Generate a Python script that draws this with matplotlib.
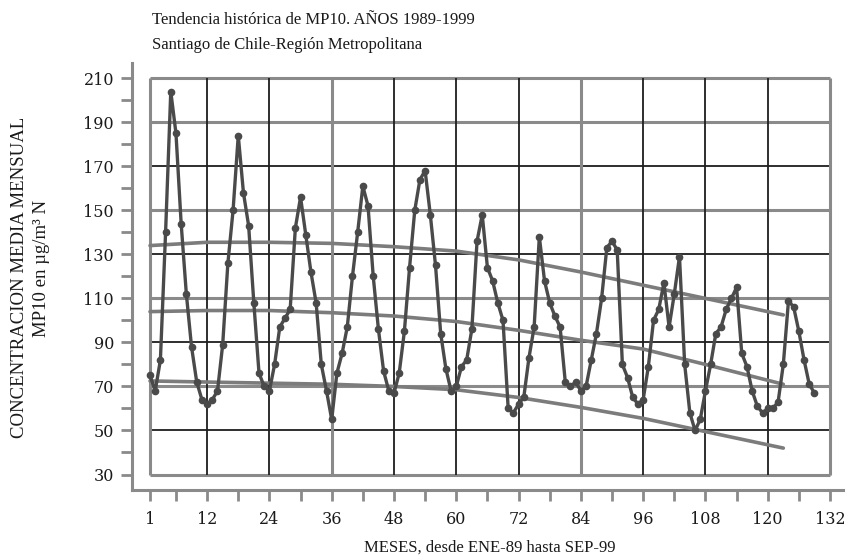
import matplotlib
matplotlib.use("Agg")
import matplotlib.pyplot as plt
import numpy as np

# ---------------- data ----------------
title_lines = ["Tendencia histórica de MP10. AÑOS 1989-1999",
               "Santiago de Chile-Región Metropolitana"]
xlabel = "MESES, desde ENE-89 hasta SEP-99"
ylabel_lines = ["CONCENTRACION MEDIA MENSUAL", "MP10 en µg/m³ N"]

months = list(range(1, 130))
mp10 = [
    # 1989
    75, 68, 82, 140, 204, 185, 144, 112, 88, 72, 64, 62,
    # 1990
    64, 68, 89, 126, 150, 184, 158, 143, 108, 76, 70, 68,
    # 1991
    80, 97, 101, 105, 142, 156, 139, 122, 108, 80, 68, 55,
    # 1992
    76, 85, 97, 120, 140, 161, 152, 120, 96, 77, 68, 67,
    # 1993
    76, 95, 124, 150, 164, 168, 148, 125, 94, 78, 68, 70,
    # 1994
    79, 82, 96, 136, 148, 124, 118, 108, 100, 60, 58, 62,
    # 1995
    65, 83, 97, 138, 118, 108, 102, 97, 72, 70, 72, 68,
    # 1996
    70, 82, 94, 110, 133, 136, 132, 80, 74, 65, 62, 64,
    # 1997
    79, 100, 105, 117, 97, 112, 129, 80, 58, 50, 55, 68,
    # 1998
    80, 94, 97, 105, 110, 115, 85, 79, 68, 61, 58, 60,
    # 1999
    60, 63, 80, 109, 106, 95, 82, 71, 67,
]

trend_months = [1, 12, 24, 36, 48, 60, 72, 84, 96, 108, 123]
trend_upper = [134, 135.5, 135.5, 135, 133.5, 131.5, 127.5, 122, 116, 110, 102.5]
trend_middle = [104, 104.5, 104.5, 103.5, 102, 99.5, 95.5, 91, 87, 80, 71]
trend_lower = [72.5, 72, 71.5, 71, 70, 68.5, 65, 60.5, 55.5, 49.5, 42]

x_grid = [1, 12, 24, 36, 48, 60, 72, 84, 96, 108, 120, 132]
x_minor = [6, 18, 30, 42, 54, 66, 78, 90, 102, 114, 126]
y_grid = [30, 50, 70, 90, 110, 130, 150, 170, 190, 210]
y_minor = [40, 60, 80, 100, 120, 140, 160, 180, 200]
x_grid_light = [1, 36, 84, 132]
y_grid_light = [30, 70, 110, 150, 190, 210]

# ---------------- figure ----------------
W, H = 847, 560
fig = plt.figure(figsize=(W / 100, H / 100), dpi=100)
fig.patch.set_facecolor("white")

left_px, right_px, top_px, bottom_px = 132, 843, 63, 490
ax = fig.add_axes([left_px / W, 1 - bottom_px / H,
                   (right_px - left_px) / W, (bottom_px - top_px) / H])

ax.set_xlim(-2.47, 134.5)
ax.set_ylim(22.96, 216.95)

# grid box
for v in y_grid:
    light = v in y_grid_light
    ax.plot([x_grid[0], x_grid[-1]], [v, v],
            color="#8a8a8a" if light else "#1e1e1e",
            lw=2.2 if light else 1.3, zorder=1, solid_capstyle="butt")
for v in x_grid:
    light = v in x_grid_light
    ax.plot([v, v], [y_grid[0], y_grid[-1]],
            color="#8a8a8a" if light else "#1e1e1e",
            lw=2.2 if light else 1.3, zorder=1, solid_capstyle="butt")

# trend lines
for tr in (trend_upper, trend_middle, trend_lower):
    ax.plot(trend_months, tr, color="#7c7c7c", lw=2.6, zorder=2,
            solid_capstyle="round")

# data
ax.plot(months, mp10, color="#4a4a4a", lw=2.4, marker="o", ms=4.5,
        mfc="#4a4a4a", mec="#4a4a4a", zorder=3)

# axes styling
for s in ("top", "right"):
    ax.spines[s].set_visible(False)
for s in ("left", "bottom"):
    ax.spines[s].set_color("#8a8a8a")
    ax.spines[s].set_linewidth(2.2)

ax.set_xticks(x_grid)
ax.set_xticklabels([str(v) for v in x_grid])
ax.set_xticks(x_minor, minor=True)
ax.set_yticks(y_grid)
ax.set_yticklabels([str(v) for v in y_grid])
ax.set_yticks(y_minor, minor=True)
ax.tick_params(axis="both", which="both", direction="out", length=8,
               width=2, color="#8a8a8a")
ax.tick_params(axis="x", which="major", pad=7)
ax.tick_params(axis="y", which="major", pad=5)
for lab in ax.get_xticklabels() + ax.get_yticklabels():
    lab.set_fontfamily("DejaVu Serif")
    lab.set_fontsize(11.5)
    lab.set_color("#1a1a1a")

serif = "Liberation Serif"
fig.text(152 / W, 1 - 20 / H, title_lines[0], family=serif, fontsize=12,
         ha="left", va="center", color="#1a1a1a")
fig.text(152 / W, 1 - 45 / H, title_lines[1], family=serif, fontsize=12,
         ha="left", va="center", color="#1a1a1a")
fig.text(490 / W, 1 - 548 / H, xlabel, family=serif, fontsize=12,
         ha="center", va="center", color="#1a1a1a")
fig.text(20 / W, 1 - 277 / H, ylabel_lines[0], family=serif, fontsize=13.5,
         ha="center", va="center", rotation=90, color="#1a1a1a")
fig.text(42 / W, 1 - 268 / H, ylabel_lines[1], family=serif, fontsize=13.5,
         ha="center", va="center", rotation=90, color="#1a1a1a")

fig.savefig("out.png", dpi=100, facecolor="white")
